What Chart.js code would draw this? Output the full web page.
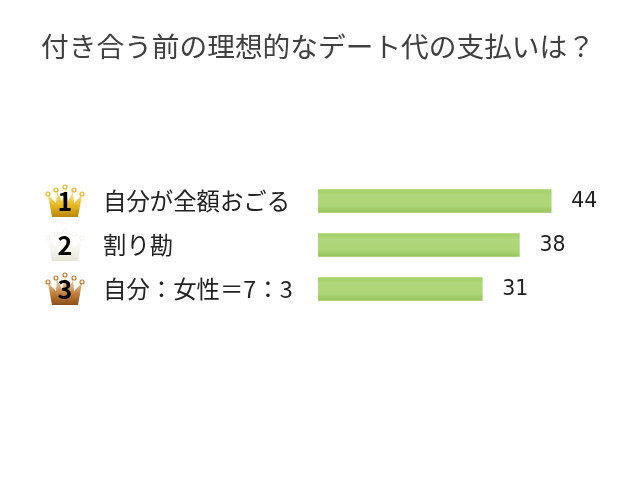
<!DOCTYPE html>
<html lang="ja">
<head>
<meta charset="utf-8">
<title>デート代の支払い</title>
<script src="https://cdn.jsdelivr.net/npm/chart.js@4"></script>
<style>
  html, body { margin: 0; padding: 0; background: #fff; }
  canvas { display: block; }
</style>
</head>
<body>
<canvas id="rankChart" width="640" height="480"></canvas>
<script>
const chartTitle = "付き合う前の理想的なデート代の支払いは？";
const categories = ["自分が全額おごる", "割り勘", "自分：女性＝7：3"];
const values = [44, 38, 31];
const ranks = ["1", "2", "3"];
const crownColors = [
  ["#f6e27a", "#e3b21c", "#b98506"],
  ["#ffffff", "#f5f4ec", "#e4e3d6"],
  ["#eec596", "#bd7a35", "#8a4f1a"]
];
const FONT = '"Noto Sans CJK JP", "Noto Sans", sans-serif';

function drawCrown(ctx, cx, cy, colors) {
  // crown is 34 wide, 31 tall, centred on the bar row
  const top = cy - 7;
  const bottom = cy + 16;
  const grad = ctx.createLinearGradient(0, top, 0, bottom);
  grad.addColorStop(0, colors[0]);
  grad.addColorStop(0.55, colors[1]);
  grad.addColorStop(1, colors[2]);
  ctx.fillStyle = grad;
  ctx.beginPath();
  ctx.moveTo(cx - 13, bottom);
  ctx.lineTo(cx - 17, top + 1);
  ctx.lineTo(cx - 9, top + 9);
  ctx.lineTo(cx - 8, top - 2);
  ctx.lineTo(cx - 3, top + 7);
  ctx.lineTo(cx, top - 5);
  ctx.lineTo(cx + 3, top + 7);
  ctx.lineTo(cx + 8, top - 2);
  ctx.lineTo(cx + 9, top + 9);
  ctx.lineTo(cx + 17, top + 1);
  ctx.lineTo(cx + 13, bottom);
  ctx.closePath();
  ctx.fill();
  ctx.strokeStyle = colors[1];
  ctx.lineWidth = 1.2;
  [[-17, -1], [-9, -5], [0, -8], [9, -5], [17, -1]].forEach(([dx, dy]) => {
    ctx.beginPath();
    ctx.arc(cx + dx, top + dy + 1, 2, 0, Math.PI * 2);
    ctx.fillStyle = "#fff";
    ctx.fill();
    ctx.stroke();
  });
}

const rankPlugin = {
  id: "rankPlugin",
  afterLayout(chart) {
    // the left padding only makes room for the crowns, title stays centred on the page
    chart.titleBlock.left = 0;
    chart.titleBlock.right = chart.width - 4;
  },
  afterDatasetsDraw(chart) {
    const { ctx, scales } = chart;
    const bars = chart.getDatasetMeta(0).data;
    ctx.save();
    ranks.forEach((rank, i) => {
      const y = scales.y.getPixelForValue(i);
      drawCrown(ctx, 65, y, crownColors[i]);
      ctx.fillStyle = "#000";
      ctx.font = "bold 25px " + FONT;
      ctx.textAlign = "center";
      ctx.textBaseline = "middle";
      ctx.fillText(rank, 65, y);
      // value label next to the bar
      ctx.fillStyle = "#222";
      ctx.font = '20.5px "DejaVu Sans", sans-serif';
      ctx.textAlign = "left";
      ctx.fillText(String(values[i]), bars[i].x + 20, y + 1);
    });
    ctx.restore();
  }
};

new Chart(document.getElementById("rankChart"), {
  type: "bar",
  data: {
    labels: categories,
    datasets: [{
      data: values,
      barThickness: 23,
      borderWidth: 0,
      backgroundColor(context) {
        const { chart, dataIndex } = context;
        const y = chart.scales.y ? chart.scales.y.getPixelForValue(dataIndex) : NaN;
        if (!Number.isFinite(y)) return "#afd77b"; // scale not laid out yet
        const grad = chart.ctx.createLinearGradient(0, y - 11.5, 0, y + 11.5);
        grad.addColorStop(0, "#a2cf66");
        grad.addColorStop(0.25, "#afd77b");
        grad.addColorStop(0.7, "#add576");
        grad.addColorStop(1, "#96c45c");
        return grad;
      }
    }]
  },
  options: {
    indexAxis: "y",
    responsive: false,
    animation: false,
    devicePixelRatio: 1,
    layout: { padding: { left: 103, right: 4, top: 0, bottom: 169 } },
    plugins: {
      legend: { display: false },
      tooltip: { enabled: false },
      title: {
        display: true,
        text: chartTitle,
        color: "#404040",
        font: { family: FONT, size: 27.7, weight: "normal", lineHeight: 1.2 },
        padding: { top: 30, bottom: 115.76 }
      }
    },
    scales: {
      x: { display: false, min: 0, max: 60 },
      y: {
        grid: { display: false },
        border: { display: false },
        afterFit(scale) { scale.width = 215; },
        ticks: { crossAlign: "far", color: "#222", font: { family: FONT, size: 23.4 }, padding: 0 }
      }
    }
  },
  plugins: [rankPlugin]
});
</script>
</body>
</html>
